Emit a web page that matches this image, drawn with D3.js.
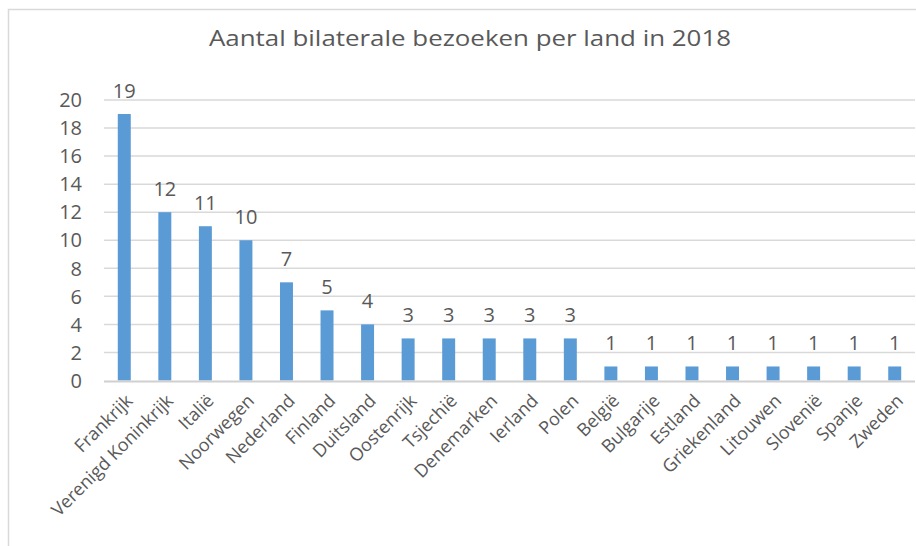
<!DOCTYPE html>
<html>
<head>
<meta charset="utf-8">
<script src="https://cdn.jsdelivr.net/npm/d3@7"></script>
<style>
  body { margin: 0; background: #fff; }
  svg { display: block; font-family: "Open Sans", "Noto Sans", sans-serif; }
</style>
</head>
<body>
<svg id="chart" width="916" height="546"></svg>
<script>
const title = "Aantal bilaterale bezoeken per land in 2018"
const countries = ["Frankrijk", "Verenigd Koninkrijk", "Italië", "Noorwegen", "Nederland", "Finland",
  "Duitsland", "Oostenrijk", "Tsjechië", "Denemarken", "Ierland", "Polen", "België", "Bulgarije",
  "Estland", "Griekenland", "Litouwen", "Slovenië", "Spanje", "Zweden"]
const visits = [19, 12, 11, 10, 7, 5, 4, 3, 3, 3, 3, 3, 1, 1, 1, 1, 1, 1, 1, 1]
const yTicks = [0, 2, 4, 6, 8, 10, 12, 14, 16, 18, 20]

const width = 916
const height = 546
const margin = {left: 104, right: 1, top: 100, bottom: 165}
const barColor = '#5b9bd5'
const textColor = '#595959'
const gridColor = '#d9d9d9'

const svg = d3.select('#chart')

// chart frame, runs off the right and bottom edge like in the source
svg.append('rect')
  .attr('x', 8.5).attr('y', 9.5)
  .attr('width', 1000).attr('height', 1000)
  .attr('fill', 'none')
  .attr('stroke', gridColor)
  .attr('stroke-width', 1.5)

const x = d3.scaleBand()
  .domain(countries)
  .range([margin.left, width - margin.right])
  .paddingInner(0.68)
  .paddingOuter(0.34)

const y = d3.scaleLinear()
  .domain([0, 20])
  .range([height - margin.bottom - 0.5, margin.top])

// gridlines
svg.append('g')
  .selectAll('line')
  .data(yTicks.filter(d => d > 0))
  .join('line')
    .attr('x1', margin.left)
    .attr('x2', width - margin.right)
    .attr('y1', d => y(d))
    .attr('y2', d => y(d))
    .attr('stroke', gridColor)
    .attr('stroke-width', 1.5)

// y tick labels
svg.append('g')
  .selectAll('text')
  .data(yTicks)
  .join('text')
    .attr('x', 82)
    .attr('y', d => y(d))
    .attr('dy', '0.36em')
    .attr('text-anchor', 'end')
    .attr('fill', textColor)
    .style('font-size', '20px')
    .text(d => d)

// bars
svg.append('g')
  .selectAll('rect')
  .data(visits)
  .join('rect')
    .attr('x', (d, i) => x(countries[i]))
    .attr('y', d => y(d))
    .attr('width', x.bandwidth())
    .attr('height', d => y(0) - y(d))
    .attr('fill', barColor)

// baseline
svg.append('line')
  .attr('x1', margin.left)
  .attr('x2', width - margin.right)
  .attr('y1', y(0) + 1)
  .attr('y2', y(0) + 1)
  .attr('stroke', '#d0d0d0')
  .attr('stroke-width', 2)

// value labels
svg.append('g')
  .selectAll('text')
  .data(visits)
  .join('text')
    .attr('x', (d, i) => x(countries[i]) + x.bandwidth() / 2)
    .attr('y', d => y(d) - 16)
    .attr('text-anchor', 'middle')
    .attr('fill', textColor)
    .style('font-size', '20px')
    .text(d => d)

// category labels, rotated
svg.append('g')
  .selectAll('text')
  .data(countries)
  .join('text')
    .attr('text-anchor', 'end')
    .attr('fill', textColor)
    .style('font-size', '18px')
    .attr('transform', d => `translate(${x(d) + x.bandwidth() / 2 + 5}, ${y(0) + 17}) rotate(-45)`)
    .attr('dy', '0.35em')
    .text(d => d)

// title
svg.append('text')
  .attr('x', 470)
  .attr('y', 46)
  .attr('text-anchor', 'middle')
  .attr('fill', textColor)
  .attr('textLength', 522)
  .attr('lengthAdjust', 'spacingAndGlyphs')
  .style('font-size', '22px')
  .text(title)
</script>
</body>
</html>
